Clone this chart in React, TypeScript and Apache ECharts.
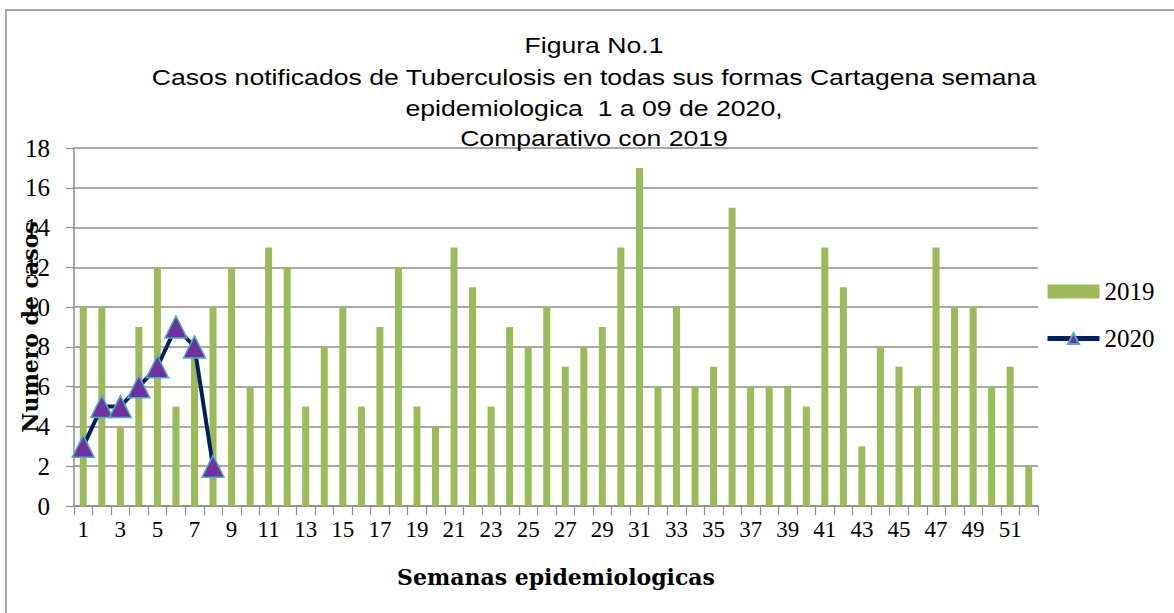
import React, { useEffect, useRef } from "react";
import * as echarts from "echarts";

const weeks: string[] = Array.from({ length: 52 }, (_, i) => String(i + 1));
const cases2019: number[] = [
  10, 10, 4, 9, 12, 5, 8, 10, 12, 6, 13, 12, 5, 8, 10, 5, 9, 12, 5, 4,
  13, 11, 5, 9, 8, 10, 7, 8, 9, 13, 17, 6, 10, 6, 7, 15, 6, 6, 6, 5,
  13, 11, 3, 8, 7, 6, 13, 10, 10, 6, 7, 2,
];
const cases2020: number[] = [3, 5, 5, 6, 7, 9, 8, 2];
const titleLines: string[] = [
  "Figura No.1",
  "Casos notificados de Tuberculosis en todas sus formas Cartagena semana",
  "epidemiologica  1 a 09 de 2020,",
  "Comparativo con 2019",
];
const titleY: number[] = [45, 77, 108, 138];

export default function App() {
  const ref = useRef<HTMLDivElement>(null);
  useEffect(() => {
    if (!ref.current) return;
    const chart = echarts.init(ref.current, undefined, { renderer: "svg" });
    const serif = "'Liberation Serif', 'DejaVu Serif', serif";
    const wideSerif = "'DejaVu Serif', 'Liberation Serif', serif";
    chart.setOption({
      animation: false,
      backgroundColor: "#ffffff",
      graphic: [
        {
          type: "rect",
          shape: { x: 6, y: 10, width: 1200, height: 700 },
          style: { fill: "none", stroke: "#8c8c8c", lineWidth: 1.5 },
          silent: true,
          z: 0,
        },
        ...titleLines.map((t, i) => ({
          type: "text",
          x: 594,
          y: titleY[i],
          scaleX: 1.21,
          style: {
            text: t,
            font: "22px 'Liberation Sans', Arial, sans-serif",
            fill: "#000",
            align: "center",
            verticalAlign: "middle",
          },
          z: 10,
        })),
      ],
      legend: {
        orient: "vertical",
        left: 1040,
        top: 274,
        itemWidth: 52,
        itemHeight: 14,
        itemGap: 22,
        textStyle: { fontFamily: serif, fontSize: 25, color: "#000" },
        data: [
          { name: "2019", icon: "rect" },
          { name: "2020", lineStyle: { width: 5, color: "#002060" } },
        ],
      },
      grid: {
        left: 74,
        right: 136,
        top: 148,
        bottom: 107,
        containLabel: false,
        outerBoundsMode: "none",
      },
      xAxis: {
        type: "category",
        data: weeks,
        boundaryGap: true,
        name: "Semanas epidemiologicas",
        nameLocation: "middle",
        nameGap: 60,
        nameTextStyle: { fontFamily: wideSerif, fontSize: 22, fontWeight: "bold", color: "#000" },
        axisLine: { lineStyle: { color: "#8c8c8c", width: 1.5 } },
        axisTick: { show: true, alignWithLabel: false, interval: 0, length: 9, lineStyle: { color: "#8c8c8c", width: 1.2 } },
        axisLabel: { interval: 1, fontFamily: serif, fontSize: 23, color: "#000", margin: 12 },
      },
      yAxis: {
        type: "value",
        min: 0,
        max: 18,
        interval: 2,
        name: "Numero de casos",
        nameLocation: "middle",
        nameGap: 33,
        nameRotate: 90,
        nameMoveOverlap: false,
        nameTextStyle: { fontFamily: wideSerif, fontSize: 22, fontWeight: "bold", color: "#000" },
        axisLine: { show: true, lineStyle: { color: "#8c8c8c", width: 1.5 } },
        axisTick: { show: true, length: 8, lineStyle: { color: "#8c8c8c", width: 1.2 } },
        axisLabel: { fontFamily: serif, fontSize: 25, color: "#000", margin: 24 },
        splitLine: { lineStyle: { color: "#8c8c8c", width: 1.5 } },
      },
      series: [
        {
          name: "2019",
          type: "bar",
          data: cases2019,
          barWidth: 7,
          itemStyle: { color: "#9BBB59" },
          z: 2,
        },
        {
          name: "2020",
          type: "line",
          data: cases2020,
          symbol: "triangle",
          symbolSize: 22,
          showAllSymbol: true,
          lineStyle: { color: "#002060", width: 4 },
          itemStyle: { color: "#7030A0", borderColor: "#4BACC6", borderWidth: 1.5 },
          z: 3,
        },
      ],
    });
    return () => chart.dispose();
  }, []);
  return (
    <div
      ref={ref}
      style={{ position: "fixed", left: 0, top: 0, width: 1174, height: 613 }}
    />
  );
}
